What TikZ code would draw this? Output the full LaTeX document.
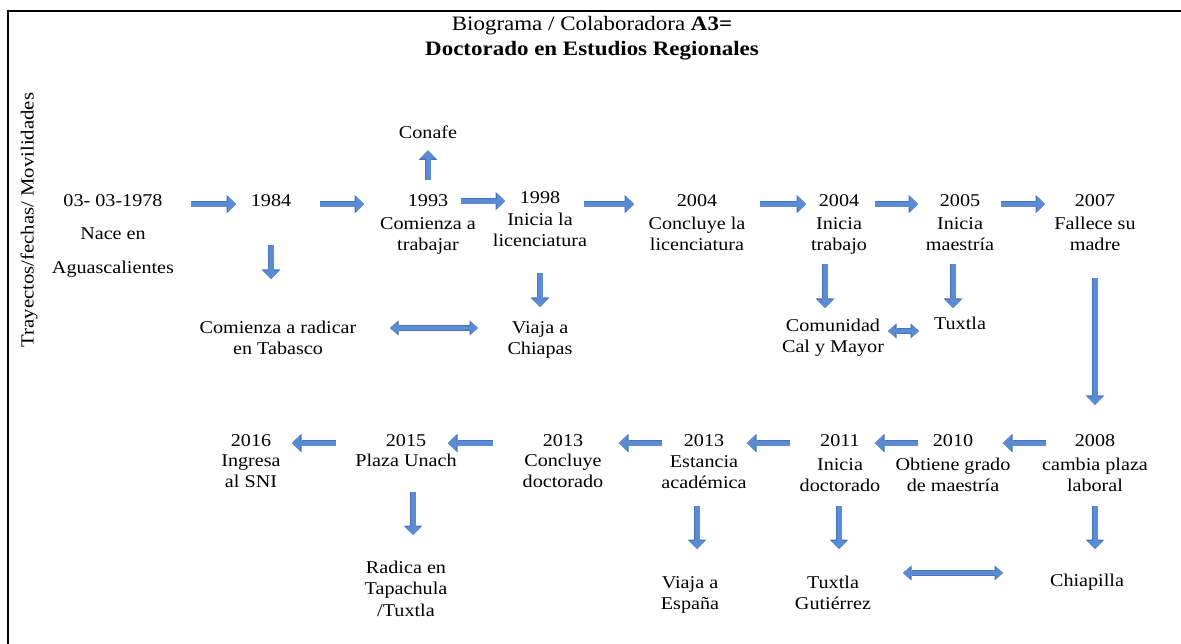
\documentclass[tikz,border=0pt]{standalone}
\usepackage{fontspec}
\setmainfont{Liberation Serif}[FakeStretch=1.12]
\usetikzlibrary{arrows.meta,calc}
\definecolor{flechaazul}{HTML}{5B8BD3}
\definecolor{bordeazul}{HTML}{4674BA}
\newcommand{\texto}{\fontsize{18}{21.5}\selectfont}
\newcommand{\titulo}{\fontsize{20.5}{25}\selectfont}
\tikzset{
  anio/.style={anchor=base,inner sep=0pt,font=\texto},
  desc/.style={anchor=north,inner sep=0pt,align=center,font=\texto},
  flecha/.style={draw=flechaazul,line width=5pt,-{Triangle[length=8pt,width=16pt,line width=0pt 0]},
    preaction={draw=bordeazul,line width=6.6pt,-{Triangle[length=9.5pt,width=18.5pt,line width=0pt 0]}}},
  doble/.style={draw=flechaazul,line width=4pt,{Triangle[length=7pt,width=12.5pt,line width=0pt 0]}-{Triangle[length=7pt,width=12.5pt,line width=0pt 0]},
    preaction={draw=bordeazul,line width=5.5pt,{Triangle[length=8.5pt,width=15pt,line width=0pt 0]}-{Triangle[length=8.5pt,width=15pt,line width=0pt 0]}}}
}

\begin{document}
\begin{tikzpicture}[x=1pt,y=-1pt]
    \useasboundingbox (0,0) rectangle (1181,644);
    \draw[line width=2pt] (8,644) -- (8,11) -- (1181,11);
    \node[align=center,anchor=north,inner sep=0pt,font=\titulo] (titulo) at (592,13) {\strut Biograma / Colaboradora \textbf{A3=}\\\textbf{Doctorado en Estudios Regionales}};
    \node[rotate=90,font=\fontsize{18.5}{22}\selectfont] (eje) at (29,220) {Trayectos/fechas/ Movilidades};
    \foreach \n/\x/\y/\t in {1978/113/207/03- 03-1978,1984/271/207/1984,1993/428/207/1993,1998/540/204/1998,2004/697/207/2004,2004b/839/207/2004,2005/960/207/2005,2007/1095/207/2007,2008/1095/446/2008,2010/953/446/2010,2011/840/446/2011,2013b/704/446/2013,2013a/563/446/2013,2015/406/446/2015,2016/251/446/2016} \node[anio] (a\n) at (\x,\y) {\t};
    \foreach \n/\x/\y/\t in {1978/113/224/{Nace en\\[12.5pt]Aguascalientes},1993/428/214/{Comienza a\\trabajar},1998/540/210/{Inicia la\\licenciatura},2004/697/214/{Concluye la\\licenciatura},2004b/839/214/{Inicia\\trabajo},2005/960/214/{Inicia\\maestría},2007/1095/214/{Fallece su\\madre},2008/1095/455/{cambia plaza\\laboral},2010/953/455/{Obtiene grado\\de maestría},2011/840/455/{Inicia\\doctorado},2013b/704/452/{Estancia\\académica},2013a/563/451/{Concluye\\doctorado},2015/406/451/{Plaza Unach},2016/251/451/{Ingresa\\al SNI}} \node[desc] (d\n) at (\x,\y) {\strut\t};
    \node[anio] (conafe) at (428,139) {Conafe};
    \node[desc] (tabasco) at (278,318) {\strut Comienza a radicar\\en Tabasco};
    \node[desc] (chiapas) at (540,318) {\strut Viaja a\\Chiapas};
    \node[desc] (calmayor) at (833,316) {\strut Comunidad\\Cal y Mayor};
    \node[desc] (tuxtla) at (960,314) {\strut Tuxtla};
    \node[desc] (espana) at (690,573) {\strut Viaja a\\España};
    \node[desc] (gutierrez) at (833,573) {\strut Tuxtla\\Gutiérrez};
    \node[desc] (chiapilla) at (1087,571) {\strut Chiapilla};
    \node[desc] (tapachula) at (406,558) {\strut Radica en\\Tapachula\\/Tuxtla};
    \foreach \i/\j/\s/\e in {a1978/a1984/78/35,a1984/a1993/49/64,a1993/a1998/33/35,a1998/a2004/44/63,a2004/a2004b/63/33,a2004b/a2005/36/42,a2005/a2007/41/50,a2008/a2010/49/50,a2010/a2011/35/35,a2011/a2013b/50/43,a2013b/a2013a/42/56,a2013a/a2015/70/42,a2015/a2016/70/41} \draw[flecha,shorten <=\s pt,shorten >=\e pt] ([yshift=-3pt]\i.center |- \j.center) -- ([yshift=-3pt]\j.center);
    \foreach \i/\j/\dx/\s/\e in {a1984/tabasco/0/44/39,a1998/chiapas/0/75/11,a2004b/calmayor/-14/63/8,a2005/tuxtla/-7/63/6,a2007/a2008/0/77/29,a2013b/espana/-7/66/24,a2011/gutierrez/-1/66/24,a2008/chiapilla/0/66/22,a2015/tapachula/7/52/23} \draw[flecha,shorten <=\s pt,shorten >=\e pt] ([xshift=\dx pt]\i.center) -- ([xshift=\dx pt]\i.center |- \j.north);
    \draw[flecha,shorten <=21pt,shorten >=11pt] (a1993.center) -- (a1993.center |- conafe.south);
    \draw[doble,shorten <=112pt,shorten >=62pt] ([yshift=-10pt]tabasco.north) -- ([yshift=-10pt]chiapas.north);
    \draw[doble,shorten <=55pt,shorten >=41pt] ([yshift=-15pt]calmayor.north) -- ([yshift=-15pt]calmayor.north -| tuxtla.north);
    \draw[doble,shorten <=70pt,shorten >=84pt] (gutierrez.north) -- (gutierrez.north -| chiapilla.north);
\end{tikzpicture}
\end{document}
